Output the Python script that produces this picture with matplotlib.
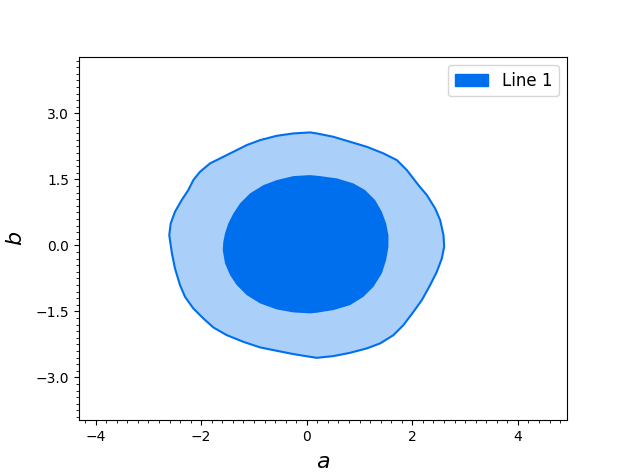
import matplotlib
matplotlib.use("Agg")
import matplotlib.pyplot as plt
from matplotlib.ticker import AutoMinorLocator, MultipleLocator, FuncFormatter
from matplotlib.patches import Patch

# Outer (95%) contour boundary
outer_a = [0.063, -0.254, -0.569, -0.885, -1.137, -1.327, -1.581, -1.833, -2.023, -2.150,
           -2.245, -2.370, -2.497, -2.578, -2.605, -2.592, -2.555, -2.497, -2.402, -2.307,
           -2.150, -1.960, -1.771, -1.517, -1.202, -0.885, -0.569, -0.254, 0.063, 0.190,
           0.504, 0.821, 1.137, 1.390, 1.642, 1.831, 2.021, 2.180, 2.337, 2.464,
           2.559, 2.603, 2.590, 2.527, 2.432, 2.275, 2.116, 1.896, 1.706, 1.452,
           1.137, 0.821, 0.504, 0.190]
outer_b = [2.568, 2.545, 2.491, 2.393, 2.280, 2.166, 2.014, 1.864, 1.673, 1.484,
           1.257, 1.030, 0.764, 0.500, 0.234, 0.120, -0.182, -0.523, -0.902, -1.168,
           -1.432, -1.659, -1.864, -2.039, -2.191, -2.318, -2.395, -2.470, -2.532, -2.555,
           -2.516, -2.441, -2.341, -2.227, -2.039, -1.811, -1.509, -1.243, -0.902, -0.600,
           -0.295, -0.032, 0.234, 0.575, 0.841, 1.143, 1.370, 1.711, 1.939, 2.091,
           2.241, 2.355, 2.468, 2.545]

# Inner (68%) contour boundary
inner_a = [0.063, -0.254, -0.569, -0.822, -1.075, -1.264, -1.391, -1.486, -1.549, -1.581,
           -1.592, -1.549, -1.454, -1.327, -1.137, -0.885, -0.569, -0.254, 0.063, 0.190,
           0.504, 0.821, 1.073, 1.263, 1.422, 1.503, 1.547, 1.547, 1.503, 1.422,
           1.295, 1.105, 0.883, 0.569, 0.252]
inner_b = [1.598, 1.575, 1.484, 1.370, 1.182, 0.955, 0.727, 0.500, 0.273, 0.082,
           -0.107, -0.409, -0.675, -0.902, -1.130, -1.318, -1.455, -1.523, -1.545, -1.530,
           -1.470, -1.357, -1.168, -0.941, -0.636, -0.334, -0.032, 0.234, 0.500, 0.764,
           1.030, 1.257, 1.409, 1.523, 1.575]

series_label = "Line 1"
dark = "#006FED"
light = "#AACFF9"

fig, ax = plt.subplots(figsize=(6.3, 4.72), dpi=100)

ax.fill(outer_a, outer_b, facecolor=light, edgecolor="none", lw=0, zorder=1)
ax.fill(inner_a, inner_b, facecolor=dark, edgecolor="none", lw=0, zorder=2)
ax.fill(outer_a, outer_b, facecolor="none", edgecolor=dark, lw=1.5, zorder=3,
        joinstyle="round")

ax.set_xlim(-4.32, 4.93)
ax.set_ylim(-3.97, 4.29)

ax.xaxis.set_major_locator(MultipleLocator(2))
ax.yaxis.set_major_locator(MultipleLocator(1.5))
ax.yaxis.set_major_formatter(FuncFormatter(
    lambda v, p: ("%.1f" % (0.0 if abs(v) < 1e-9 else v)).replace("-", "\u2212")))
ax.xaxis.set_minor_locator(AutoMinorLocator(10))
ax.yaxis.set_minor_locator(AutoMinorLocator(10))

ax.set_xlabel("$a$", fontsize=16, labelpad=6)
ax.set_ylabel("$b$", fontsize=16, labelpad=7)

ax.legend(handles=[Patch(color=dark, label=series_label)], loc="upper right", fontsize=12)

fig.savefig("out.png", dpi=100)
